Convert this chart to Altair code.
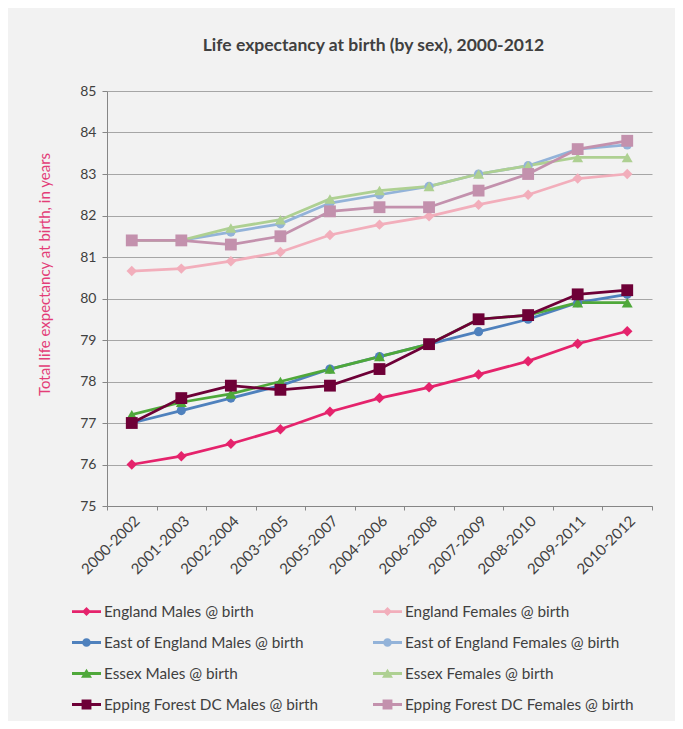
import altair as alt
import pandas as pd

periods = ["2000-2002", "2001-2003", "2002-2004", "2003-2005", "2005-2007", "2004-2006",
           "2006-2008", "2007-2009", "2008-2010", "2009-2011", "2010-2012"]

series = [
    "England Males @ birth", "England Females @ birth",
    "East of England Males @ birth", "East of England Females @ birth",
    "Essex Males @ birth", "Essex Females @ birth",
    "Epping Forest DC Males @ birth", "Epping Forest DC Females @ birth",
]

england_m = [76.0, 76.2, 76.5, 76.85, 77.27, 77.6, 77.86, 78.17, 78.49, 78.91, 79.21]
england_f = [80.66, 80.72, 80.9, 81.12, 81.53, 81.78, 81.98, 82.26, 82.5, 82.89, 83.0]
eoe_m = [77.0, 77.3, 77.6, 77.9, 78.3, 78.6, 78.9, 79.2, 79.5, 79.9, 80.1]
eoe_f = [81.4, 81.4, 81.6, 81.8, 82.3, 82.5, 82.7, 83.0, 83.2, 83.6, 83.7]
essex_m = [77.2, 77.5, 77.7, 78.0, 78.3, 78.6, 78.9, 79.5, 79.6, 79.9, 79.9]
essex_f = [81.4, 81.4, 81.7, 81.9, 82.4, 82.6, 82.7, 83.0, 83.2, 83.4, 83.4]
epping_m = [77.0, 77.6, 77.9, 77.8, 77.9, 78.3, 78.9, 79.5, 79.6, 80.1, 80.2]
epping_f = [81.4, 81.4, 81.3, 81.5, 82.1, 82.2, 82.2, 82.6, 83.0, 83.6, 83.8]

values = [england_m, england_f, eoe_m, eoe_f, essex_m, essex_f, epping_m, epping_f]

colors = ["#e5236c", "#f2aebb", "#4f81bd", "#93b3d9", "#4fa83a", "#aed092", "#6e0037", "#c391ad"]

y_ticks = [75, 76, 77, 78, 79, 80, 81, 82, 83, 84, 85]

rows = []
for s, vals in zip(series, values):
    for p, v in zip(periods, vals):
        rows.append({"period": p, "series": s, "value": v})
df = pd.DataFrame(rows)

bar = "M-1,-0.1 L1,-0.1 L1,0.1 L-1,0.1 Z "
diamond = "M0,-0.31 L0.31,0 L0,0.31 L-0.31,0 Z"
circle = "M0.3,0 A0.3,0.3 0 1,1 -0.3,0 A0.3,0.3 0 1,1 0.3,0 Z"
triangle = "M0,-0.33 L0.38,0.3 L-0.38,0.3 Z"
square = "M-0.34,-0.34 L0.34,-0.34 L0.34,0.34 L-0.34,0.34 Z"
legend_shapes = [bar + diamond, bar + diamond, bar + circle, bar + circle,
                 bar + triangle, bar + triangle, bar + square, bar + square]

# legend grid fills column by column: males in the left column, females in the right
order = [0, 2, 4, 6, 1, 3, 5, 7]
dom = [series[i] for i in order]
rng = [colors[i] for i in order]
shp = [legend_shapes[i] for i in order]

FONT = "Lato"
TXT = "#404040"
AX = "#868686"

x_enc = alt.X(
    "period:N", sort=periods,
    scale=alt.Scale(type="band", paddingInner=0, paddingOuter=0),
    axis=alt.Axis(title=None, labelAngle=-45, tickBand="extent", tickSize=4,
                  labelPadding=3, labelFontSize=15, labelFont=FONT, labelColor=TXT,
                  domainColor=AX, tickColor=AX, grid=False),
)
y_enc = alt.Y(
    "value:Q",
    scale=alt.Scale(domain=[75, 85], nice=False, zero=False),
    axis=alt.Axis(values=y_ticks, title="Total life expectancy at birth, in years",
                  titleColor="#e33d78", titleFont=FONT, titleFontSize=15,
                  titleFontWeight="normal", titleAngle=270, titleX=-63, titleY=183,
                  titleAlign="center", titleBaseline="middle",
                  labelFont=FONT, labelFontSize=14, labelColor=TXT, labelPadding=6,
                  tickSize=5, tickColor=AX, domainColor=AX,
                  grid=True, gridColor="#a6a6a6", gridWidth=1),
)
color_scale = alt.Scale(domain=dom, range=rng)

leg = alt.Legend(title=None, orient="none", legendX=-35, legendY=506, columns=2,
                 columnPadding=55, rowPadding=8, labelOffset=3, symbolSize=841,
                 symbolStrokeWidth=0, labelFont=FONT, labelFontSize=15.3, labelColor=TXT,
                 padding=0, labelLimit=400)

base = alt.Chart(df)

legend_layer = base.mark_point(filled=True, opacity=1).encode(
    color=alt.Color("series:N", scale=color_scale, legend=leg),
    shape=alt.Shape("series:N", scale=alt.Scale(domain=dom, range=shp), legend=leg),
).transform_filter("false")

lines = base.mark_line(strokeWidth=2.75).encode(
    x=x_enc, y=y_enc,
    color=alt.Color("series:N", scale=color_scale),
)

def pts(group, shape, size):
    return base.mark_point(filled=True, opacity=1, shape=shape, size=size).encode(
        x=x_enc, y=y_enc,
        color=alt.Color("series:N", scale=color_scale),
    ).transform_filter(alt.FieldOneOfPredicate(field="series", oneOf=group))

p1 = pts(series[0:2], "diamond", 110)
p2 = pts(series[2:4], "circle", 85)
p3 = pts(series[4:6], "triangle-up", 120)
p4 = pts(series[6:8], "square", 140)

chart = alt.layer(legend_layer, lines, p1, p2, p3, p4).properties(
    width=545, height=415,
    autosize=alt.AutoSizeParams(type="none"),
    padding={"left": 99, "top": 83, "right": 23, "bottom": 215},
    title=alt.Title("Life expectancy at birth (by sex), 2000-2012", fontSize=17.5, font=FONT,
                    fontWeight="bold", color=TXT, anchor="middle", offset=30, dx=-6),
).configure(background="#f2f2f2").configure_view(stroke=None)

chart.save("out.html", embed_options={"renderer": "svg", "actions": False})
